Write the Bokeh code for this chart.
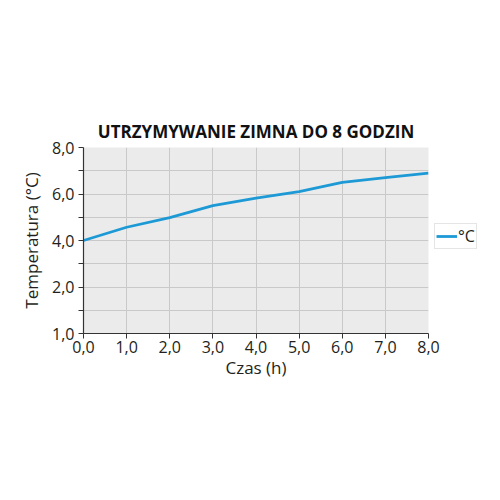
from bokeh.plotting import figure
from bokeh.models import FixedTicker, Legend, LegendItem
from bokeh.embed import file_html
from bokeh.resources import INLINE

# czas (h) i temperatura
hours = [0, 1, 2, 3, 4, 5, 6, 7, 8]
temps = [4.0, 4.57, 4.98, 5.5, 5.82, 6.1, 6.5, 6.7, 6.9]

x_labels = ["0,0", "1,0", "2,0", "3,0", "4,0", "5,0", "6,0", "7,0", "8,0"]
y_ticks = [0, 1, 2, 3, 4, 5, 6, 7, 8]
y_labels = ["1,0", "", "2,0", "", "4,0", "", "6,0", "", "8,0"]

FONT = "Open Sans"
TXT = "#231f20"

p = figure(frame_width=345, frame_height=186, x_range=(0, 8), y_range=(0, 8),
           output_backend="svg", toolbar_location=None,
           title="UTRZYMYWANIE ZIMNA DO 8 GODZIN",
           x_axis_label="Czas (h)", y_axis_label="Temperatura (°C)",
           min_border_left=83, min_border_right=56, min_border_top=147, min_border_bottom=151)

p.title.align = "center"
p.title.text_font = FONT
p.title.text_font_style = "bold"
p.title.text_font_size = "17px"
p.title.text_color = "#111111"
p.title.offset = -4

p.background_fill_color = "#ebebeb"
p.border_fill_color = "white"
p.outline_line_color = None

for g in (p.xgrid, p.ygrid):
    g.grid_line_color = "#c9c9c9"
    g.grid_line_width = 1
p.xgrid.ticker = FixedTicker(ticks=hours)
p.ygrid.ticker = FixedTicker(ticks=y_ticks)

p.xaxis.ticker = FixedTicker(ticks=hours)
p.xaxis.major_label_overrides = {h: lab for h, lab in zip(hours, x_labels)}
p.yaxis.ticker = FixedTicker(ticks=y_ticks)
p.yaxis.major_label_overrides = {t: lab for t, lab in zip(y_ticks, y_labels)}

for ax in (p.xaxis, p.yaxis):
    ax.axis_line_color = "#333333"
    ax.axis_line_width = 1.2
    ax.major_tick_line_color = "#333333"
    ax.major_tick_out = 5
    ax.major_tick_in = 0
    ax.minor_tick_line_color = None
    ax.major_label_text_font = FONT
    ax.major_label_text_font_size = "16px"
    ax.major_label_text_color = TXT
    ax.axis_label_text_font = FONT
    ax.axis_label_text_font_size = "17px"
    ax.axis_label_text_font_style = "normal"
    ax.axis_label_text_color = TXT
p.xaxis.major_label_standoff = 2
p.xaxis.axis_label_standoff = 0
p.yaxis.major_label_standoff = 4
p.yaxis.axis_label_standoff = 6

line = p.line(hours, temps, line_color="#1d9ad6", line_width=2.8)

legend = Legend(items=[LegendItem(label="°C", renderers=[line])],
                location=(6, 84), orientation="vertical")
legend.label_text_font = FONT
legend.label_text_font_size = "16px"
legend.label_text_color = TXT
legend.border_line_color = "#cccccc"
legend.background_fill_color = "white"
legend.glyph_width = 21
legend.glyph_height = 16
legend.label_height = 16
legend.label_width = 10
legend.padding = 1
legend.margin = 0
legend.spacing = 0
legend.label_standoff = 1
p.add_layout(legend, "right")

open("out.html", "w").write(file_html(p, INLINE))
